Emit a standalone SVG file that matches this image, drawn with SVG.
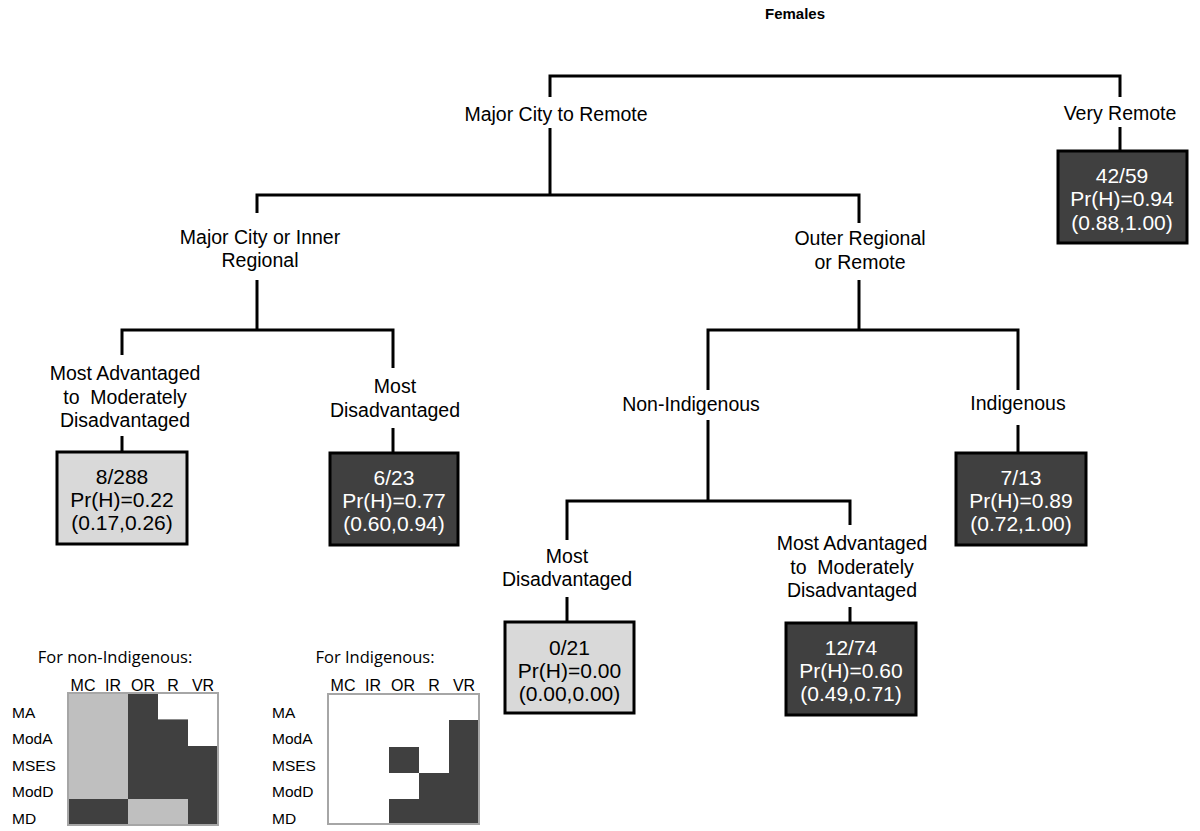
<svg xmlns="http://www.w3.org/2000/svg" width="1200" height="831" viewBox="0 0 1200 831">
<style>
.lbl{font-family:"Liberation Sans",Arial,sans-serif;font-size:19.5px;fill:#000;text-anchor:middle}
.bt{font-family:"Liberation Sans",Arial,sans-serif;font-size:21px;text-anchor:middle}
.light rect{fill:#d9d9d9;stroke:#000;stroke-width:3}
.light text{fill:#000}
.dark rect{fill:#404040;stroke:#000;stroke-width:3}
.dark text{fill:#fff}
.conn{fill:none;stroke:#000;stroke-width:3}
.gt{font-family:"Open Sans","Noto Sans",sans-serif;font-size:16.5px;fill:#000;text-anchor:middle}
.gl{font-family:"Liberation Sans",Arial,sans-serif;font-size:15.5px;fill:#000}
.gh{font-family:"Liberation Sans",Arial,sans-serif;font-size:16px;fill:#000;text-anchor:middle}
.D{fill:#404040}
.L{fill:#bfbfbf}
.W{fill:#fff}
.frame{fill:none;stroke:#a6a6a6;stroke-width:2}
</style>
<rect width="1200" height="831" fill="#fff"/>
<text x="795" y="19" font-family="Liberation Sans,Arial,sans-serif" font-size="15" font-weight="bold" text-anchor="middle">Females</text>

<g id="connectors" class="conn">
<path d="M550,97 V76 H1120 V97"/>
<path d="M550,128 V195"/>
<path d="M257,213 V195 H859 V223"/>
<path d="M1120,127 V151"/>
<path d="M257,280 V330"/>
<path d="M122,355 V330 H393 V368"/>
<path d="M122,436 V452"/>
<path d="M393,428 V453"/>
<path d="M859,280 V330"/>
<path d="M708,390 V330 H1018 V390"/>
<path d="M708,420 V501"/>
<path d="M1018,425 V453"/>
<path d="M567,540 V501 H850 V525"/>
<path d="M567,597 V622"/>
<path d="M850,607 V623"/>
</g>

<g id="n-root"><text class="lbl" x="556" y="121">Major City to Remote</text></g>
<g id="n-very-remote"><text class="lbl" x="1120" y="120">Very Remote</text></g>
<g id="n-major-inner"><text class="lbl" x="260" y="244">Major City or Inner</text><text class="lbl" x="260" y="267">Regional</text></g>
<g id="n-outer-remote"><text class="lbl" x="860" y="245">Outer Regional</text><text class="lbl" x="860" y="269">or Remote</text></g>
<g id="n-left-adv"><text class="lbl" x="125" y="380">Most Advantaged</text><text class="lbl" x="125" y="404" xml:space="preserve">to  Moderately</text><text class="lbl" x="125" y="427">Disadvantaged</text></g>
<g id="n-left-dis"><text class="lbl" x="395" y="393">Most</text><text class="lbl" x="395" y="417">Disadvantaged</text></g>
<g id="n-nonindig"><text class="lbl" x="691" y="411">Non-Indigenous</text></g>
<g id="n-indig"><text class="lbl" x="1018" y="410">Indigenous</text></g>
<g id="n-right-dis"><text class="lbl" x="567" y="563">Most</text><text class="lbl" x="567" y="586">Disadvantaged</text></g>
<g id="n-right-adv"><text class="lbl" x="852" y="550">Most Advantaged</text><text class="lbl" x="852" y="574" xml:space="preserve">to  Moderately</text><text class="lbl" x="852" y="597">Disadvantaged</text></g>

<g id="box-vr" class="dark"><rect x="1058" y="151" width="129" height="92"/>
<text class="bt" x="1122" y="182.5">42/59</text><text class="bt" x="1122" y="205.5">Pr(H)=0.94</text><text class="bt" x="1122" y="229.5">(0.88,1.00)</text></g>
<g id="box-8-288" class="light"><rect x="57" y="452" width="130" height="92"/>
<text class="bt" x="122" y="484">8/288</text><text class="bt" x="122" y="507">Pr(H)=0.22</text><text class="bt" x="122" y="530">(0.17,0.26)</text></g>
<g id="box-6-23" class="dark"><rect x="330" y="453" width="128" height="92"/>
<text class="bt" x="394" y="485">6/23</text><text class="bt" x="394" y="508">Pr(H)=0.77</text><text class="bt" x="394" y="531">(0.60,0.94)</text></g>
<g id="box-7-13" class="dark"><rect x="956" y="453" width="130" height="92"/>
<text class="bt" x="1021" y="485">7/13</text><text class="bt" x="1021" y="508">Pr(H)=0.89</text><text class="bt" x="1021" y="531">(0.72,1.00)</text></g>
<g id="box-0-21" class="light"><rect x="505" y="622" width="129" height="91"/>
<text class="bt" x="569.5" y="654.5">0/21</text><text class="bt" x="569.5" y="677.5">Pr(H)=0.00</text><text class="bt" x="569.5" y="700.5">(0.00,0.00)</text></g>
<g id="box-12-74" class="dark"><rect x="786" y="623" width="130" height="92"/>
<text class="bt" x="851" y="655">12/74</text><text class="bt" x="851" y="678">Pr(H)=0.60</text><text class="bt" x="851" y="701">(0.49,0.71)</text></g>

<g id="grid-nonindig">
<text class="gt" x="115" y="663">For non-Indigenous:</text>
<text class="gh" x="83" y="690.5">MC</text><text class="gh" x="113" y="690.5">IR</text><text class="gh" x="143" y="690.5">OR</text><text class="gh" x="173" y="690.5">R</text><text class="gh" x="203" y="690.5">VR</text>
<text class="gl" x="12" y="717.5">MA</text><text class="gl" x="12" y="744">ModA</text><text class="gl" x="12" y="770.5">MSES</text><text class="gl" x="12" y="797">ModD</text><text class="gl" x="12" y="823.5">MD</text>
<rect class="L" x="68" y="693" width="60" height="106"/>
<rect class="D" x="128" y="693" width="30" height="106"/>
<rect class="D" x="158" y="719.4" width="30" height="79.6"/>
<rect class="D" x="188" y="746" width="30" height="53"/>
<rect class="D" x="68" y="799" width="60" height="26"/>
<rect class="L" x="128" y="799" width="60" height="26"/>
<rect class="D" x="188" y="799" width="30" height="26"/>
<rect class="frame" x="68" y="693" width="150" height="132"/>
</g>

<g id="grid-indig">
<text class="gt" x="375" y="663">For Indigenous:</text>
<text class="gh" x="343" y="690.5">MC</text><text class="gh" x="373" y="690.5">IR</text><text class="gh" x="403" y="690.5">OR</text><text class="gh" x="434" y="690.5">R</text><text class="gh" x="464" y="690.5">VR</text>
<text class="gl" x="272" y="717.5">MA</text><text class="gl" x="272" y="744">ModA</text><text class="gl" x="272" y="770.5">MSES</text><text class="gl" x="272" y="797">ModD</text><text class="gl" x="272" y="823.5">MD</text>
<rect class="D" x="449" y="720" width="30" height="104"/>
<rect class="D" x="389" y="747" width="30" height="26"/>
<rect class="D" x="419" y="773" width="30" height="51"/>
<rect class="D" x="389" y="799" width="30" height="25"/>
<rect class="frame" x="328" y="694" width="151" height="130"/>
</g>
</svg>
